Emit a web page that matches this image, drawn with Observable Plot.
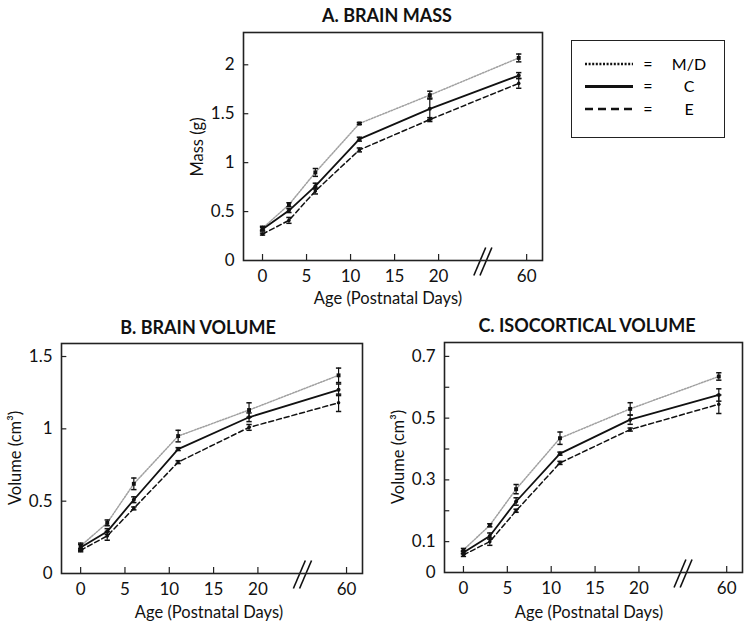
<!DOCTYPE html>
<html>
<head>
<meta charset="utf-8">
<script src="https://cdn.jsdelivr.net/npm/d3@7"></script>
<script src="https://cdn.jsdelivr.net/npm/@observablehq/plot@0.6"></script>
<style>
  body { margin: 0; background: #fff; font-family: Lato, "Open Sans", sans-serif; color: #111; }
  #wrap { position: relative; width: 750px; height: 623px; overflow: hidden; }
  .abs { position: absolute; }
  .title { font-weight: bold; font-size: 18px; transform: translate(-50%, -50%); white-space: nowrap; }
  .xlab { font-size: 16.5px; transform: translate(-50%, -50%); white-space: nowrap; }
  .ylab { font-size: 16.5px; transform: translate(-50%, -50%) rotate(-90deg); white-space: nowrap; }
</style>
</head>
<body>
<div id="wrap"></div>
<script>
// ---------- data ----------
const days = [0, 3, 6, 11, 19, 60];
const adultPos = 29.1;               // broken-axis position of the adult (P60) group
const xTicks = [0, 5, 10, 15, 20, 30];
const xTickLabels = ["0", "5", "10", "15", "20", "60"];
const groups = ["M/D", "C", "E"];

// A. Brain mass (g)
const massMD = [0.33, 0.57, 0.90, 1.40, 1.69, 2.07];
const massMDErr = [0.02, 0.02, 0.04, 0.01, 0.04, 0.04];
const massC = [0.32, 0.51, 0.76, 1.24, 1.55, 1.89];
const massCErr = [0.02, 0.02, 0.03, 0.02, 0.11, 0.03];
const massE = [0.27, 0.41, 0.71, 1.13, 1.44, 1.81];
const massEErr = [0.01, 0.03, 0.03, 0.02, 0.02, 0.05];
const massTicks = [0, 0.5, 1, 1.5, 2];

// B. Brain volume (cm3)
const volMD = [0.19, 0.35, 0.62, 0.95, 1.13, 1.37];
const volMDErr = [0.02, 0.02, 0.04, 0.04, 0.05, 0.05];
const volC = [0.18, 0.29, 0.51, 0.86, 1.08, 1.27];
const volCErr = [0.02, 0.02, 0.02, 0.01, 0.03, 0.04];
const volE = [0.16, 0.26, 0.45, 0.77, 1.01, 1.18];
const volEErr = [0.01, 0.03, 0.01, 0.01, 0.02, 0.06];
const volTicks = [0, 0.5, 1, 1.5];

// C. Isocortical volume (cm3)
const isoMD = [0.073, 0.153, 0.27, 0.435, 0.53, 0.635];
const isoMDErr = [0.005, 0.005, 0.015, 0.02, 0.02, 0.012];
const isoC = [0.065, 0.118, 0.23, 0.385, 0.495, 0.575];
const isoCErr = [0.005, 0.01, 0.012, 0.005, 0.015, 0.02];
const isoE = [0.057, 0.10, 0.20, 0.355, 0.463, 0.545];
const isoEErr = [0.005, 0.012, 0.005, 0.005, 0.005, 0.03];
const isoTicks = [0, 0.1, 0.3, 0.5, 0.7];
const isoMinorTicks = [0.1, 0.2, 0.3, 0.4, 0.5, 0.6, 0.7];

// ---------- helpers ----------
const xPos = d => (d === 60 ? adultPos : d);
const rows = (vals, errs) => days.map((d, i) => ({ x: xPos(d), y: vals[i], e: errs[i] }));

const seriesStyle = {
  "M/D": { stroke: "#a0a0a0", strokeWidth: 1.5, strokeDasharray: "1.5,1.5", symbol: "square", r: 2.2 },
  "C":   { stroke: "#111", strokeWidth: 1.8, strokeDasharray: null, symbol: "circle", r: 2 },
  "E":   { stroke: "#111", strokeWidth: 1.5, strokeDasharray: "5,3", symbol: "circle", r: 1.8 }
};

function seriesMarks(name, data) {
  const s = seriesStyle[name];
  const capW = 0.3;
  return [
    Plot.line(data, { x: "x", y: "y", stroke: s.stroke, strokeWidth: s.strokeWidth, strokeDasharray: s.strokeDasharray }),
    Plot.ruleX(data, { x: "x", y1: d => d.y - d.e, y2: d => d.y + d.e, stroke: "#111", strokeWidth: 1.2 }),
    Plot.link(data, { x1: d => d.x - capW, x2: d => d.x + capW, y1: d => d.y + d.e, y2: d => d.y + d.e, stroke: "#111", strokeWidth: 1.5 }),
    Plot.link(data, { x1: d => d.x - capW, x2: d => d.x + capW, y1: d => d.y - d.e, y2: d => d.y - d.e, stroke: "#111", strokeWidth: 1.5 }),
    Plot.dot(data, { x: "x", y: "y", r: s.r, symbol: s.symbol, fill: "#111", stroke: "none" })
  ];
}

function panel({ left, top, width, innerH, ymax, yTicks, yMinor, series }) {
  const mT = 10, mB = 50;
  const xDomain = [-2.16, 31.8];
  const k = innerH / ymax;                 // px per y unit
  const breaks = [
    { x1: 24.0, x2: 25.35, y1: -15 / k, y2: 13 / k },
    { x1: 24.7, x2: 26.05, y1: -15 / k, y2: 13 / k }
  ];
  const minor = yMinor || yTicks.filter(t => t > 0);
  const chart = Plot.plot({
    width, height: mT + innerH + mB,
    marginLeft: 60, marginRight: 10, marginTop: mT, marginBottom: mB,
    x: { domain: xDomain },
    y: { domain: [0, ymax] },
    style: { fontFamily: "Lato, 'Open Sans', sans-serif", fontSize: "17px", color: "#111", background: "transparent", overflow: "visible" },
    marks: [
      Plot.axisX({ ticks: xTicks, tickFormat: d => xTickLabels[xTicks.indexOf(d)], tickSize: 0, tickPadding: 9, label: null, fontSize: 17 }),
      Plot.axisY({ ticks: yTicks, tickFormat: d => `${d}`, tickSize: 0, tickPadding: 9, label: null, fontSize: 17 }),
      Plot.ruleX(xTicks, { x: d => d, y1: 0, y2: 6 / k, stroke: "#222", strokeWidth: 1.2 }),
      Plot.ruleY(minor, { y: d => d, x1: xDomain[0], x2: xDomain[0] + 0.6, stroke: "#222", strokeWidth: 1.2 }),
      Plot.link(breaks, { x1: "x1", x2: "x2", y1: "y1", y2: "y2", stroke: "#111", strokeWidth: 1.6, clip: false }),
      ...series.flatMap(([name, data]) => seriesMarks(name, data)),
      Plot.frame({ stroke: "#222", strokeWidth: 1.6 })
    ]
  });
  chart.style.position = "absolute";
  chart.style.left = left + "px";
  chart.style.top = top + "px";
  chart.style.overflow = "visible";
  return chart;
}

const wrap = document.getElementById("wrap");

function addText(cls, text, x, y) {
  const d = document.createElement("div");
  d.className = "abs " + cls;
  d.style.left = x + "px";
  d.style.top = y + "px";
  d.textContent = text;
  wrap.appendChild(d);
}

// Panel A
wrap.appendChild(panel({
  left: 183, top: 22, width: 369, innerH: 228, ymax: 2.33, yTicks: massTicks,
  series: [["M/D", rows(massMD, massMDErr)], ["C", rows(massC, massCErr)], ["E", rows(massE, massEErr)]]
}));
// Panel B
wrap.appendChild(panel({
  left: 1, top: 333, width: 371, innerH: 230, ymax: 1.59, yTicks: volTicks,
  series: [["M/D", rows(volMD, volMDErr)], ["C", rows(volC, volCErr)], ["E", rows(volE, volEErr)]]
}));
// Panel C
wrap.appendChild(panel({
  left: 384, top: 332, width: 368, innerH: 230, ymax: 0.745, yTicks: isoTicks, yMinor: isoMinorTicks,
  series: [["M/D", rows(isoMD, isoMDErr)], ["C", rows(isoC, isoCErr)], ["E", rows(isoE, isoEErr)]]
}));

// Titles & axis labels
addText("title", "A. BRAIN MASS", 387, 15);
addText("title", "B. BRAIN VOLUME", 198, 327);
addText("title", "C. ISOCORTICAL VOLUME", 587, 325);
addText("xlab", "Age (Postnatal Days)", 388, 298);
addText("xlab", "Age (Postnatal Days)", 209, 612);
addText("xlab", "Age (Postnatal Days)", 589, 612);
addText("ylab", "Mass (g)", 197, 147);
addText("ylab", "Volume (cm³)", 15, 458);
addText("ylab", "Volume (cm³)", 398, 457);

// Legend
const legend = document.createElement("div");
legend.className = "abs";
Object.assign(legend.style, { left: "571px", top: "40px", width: "154px", height: "98px", border: "1.5px solid #222", boxSizing: "border-box" });
const lsvg = d3.create("svg").attr("width", 151).attr("height", 95).style("font-family", "Lato, 'Open Sans', sans-serif").style("font-size", "16px");
groups.forEach((g, i) => {
  const y = 23 + i * 22.5;
  lsvg.append("line").attr("x1", 13).attr("x2", 61).attr("y1", y).attr("y2", y)
    .attr("stroke", "#111").attr("stroke-width", g === "C" ? 3 : 2.5)
    .attr("stroke-dasharray", g === "M/D" ? "2,1.6" : g === "E" ? "8,5" : null);
  lsvg.append("text").attr("x", 76).attr("y", y).attr("dy", "0.35em").attr("text-anchor", "middle").text("=");
  lsvg.append("text").attr("x", 117).attr("y", y).attr("dy", "0.35em").attr("text-anchor", "middle").text(g);
});
legend.appendChild(lsvg.node());
wrap.appendChild(legend);
</script>
</body>
</html>
